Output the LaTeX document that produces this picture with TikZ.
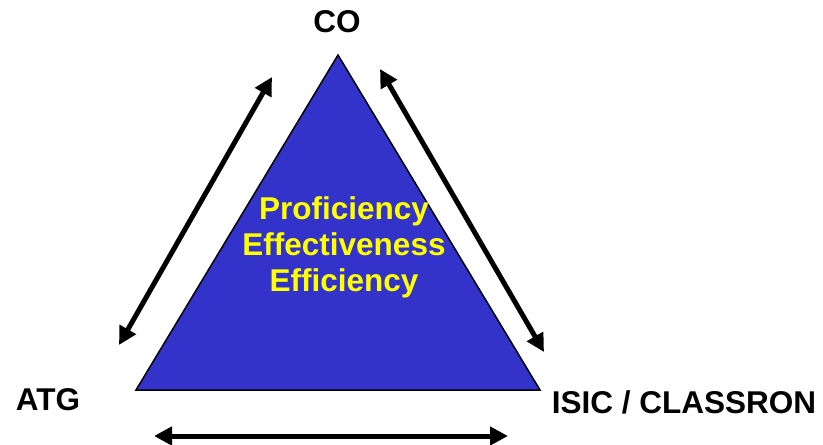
\documentclass[tikz,border=0pt]{standalone}
\usepackage{fontspec}
\setmainfont{Liberation Sans}
\usetikzlibrary{arrows.meta}
\definecolor{triblue}{HTML}{3333CC}
\definecolor{txtyellow}{HTML}{FFFF00}
\begin{document}
\begin{tikzpicture}[x=1pt,y=-1pt,
  lbl/.style={font=\fontsize{31.5}{36}\selectfont\bfseries, inner sep=0pt, anchor=base},
  inner/.style={font=\fontsize{31.5}{36}\selectfont\bfseries, text=txtyellow, align=center, inner sep=0pt},
  dbl/.style={line width=5pt, {Triangle[length=18pt,width=18pt]}-{Triangle[length=18pt,width=18pt]}}]
\useasboundingbox (0,0) rectangle (823,445);
\coordinate (apex) at (338,55);
\coordinate (bl) at (136,390);
\coordinate (br) at (540,390);
\filldraw[fill=triblue, draw=black, line width=1.5pt, line join=miter] (apex) -- (bl) -- (br) -- cycle;
\node[inner] (txt) at (344,247) {Proficiency\\Effectiveness\\Efficiency};
\node[lbl] (co) at (337,32.5) {CO};
\node[lbl] (atg) at (48,410) {ATG};
\node[lbl] (isic) at (684,413) {ISIC / CLASSRON};
\coordinate (l1) at (119,345);
\coordinate (l2) at (272,77);
\coordinate (r1) at (380,69);
\coordinate (r2) at (544,352);
\coordinate (b1) at (154,436);
\coordinate (b2) at (508,436);
\draw[dbl] (l1) -- (l2);
\draw[dbl] (r1) -- (r2);
\draw[dbl] (b1) -- (b2);
\end{tikzpicture}
\end{document}
